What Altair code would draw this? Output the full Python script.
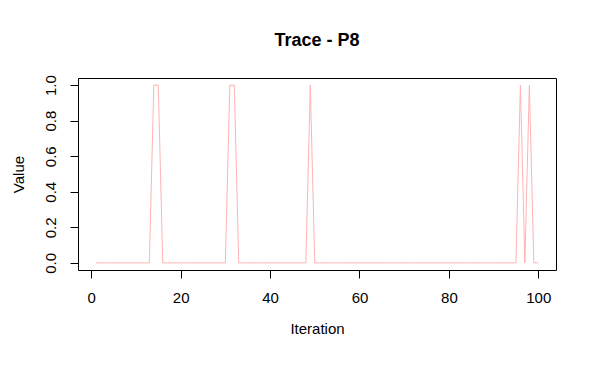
import altair as alt
import pandas as pd

iterations = list(range(1, 101))
ones_at = [14, 15, 31, 32, 49, 96, 98]
values = [1 if i in ones_at else 0 for i in iterations]

df = pd.DataFrame({"Iteration": iterations, "Value": values})

FONT = "Liberation Sans"

line = alt.Chart(df).mark_line(color="#FFB3B3", strokeWidth=1, interpolate="linear").encode(
    x=alt.X("Iteration:Q",
            scale=alt.Scale(domain=[-2.96, 103.96], nice=False, zero=False),
            axis=alt.Axis(values=[0, 20, 40, 60, 80, 100], title="Iteration",
                          grid=False, domain=False, tickColor="black", tickSize=8,
                          labelFontSize=15, labelColor="black", labelFont=FONT,
                          labelPadding=12, titleFont=FONT, titleFontSize=15,
                          titleFontWeight="normal", titleColor="black", titlePadding=16,
                          labelFlush=False)),
    y=alt.Y("Value:Q",
            scale=alt.Scale(domain=[-0.04, 1.04], nice=False, zero=False),
            axis=alt.Axis(values=[0, 0.2, 0.4, 0.6, 0.8, 1.0], format=".1f", title="Value",
                          grid=False, domain=False, tickColor="black", tickSize=8,
                          labelFontSize=15, labelColor="black", labelFont=FONT,
                          labelAngle=-90, labelAlign="center", labelBaseline="bottom",
                          labelPadding=12, titleFont=FONT, titleFontSize=15,
                          titleFontWeight="normal", titleColor="black", titlePadding=17,
                          labelFlush=False)),
)

chart = line.properties(
    width=478, height=192,
    background="white",
    title=alt.TitleParams("Trace - P8", font=FONT, fontSize=18, fontWeight="bold",
                          color="black", anchor="middle", offset=25),
    autosize=alt.AutoSizeParams(type="none"),
    padding={"left": 70, "top": 70, "right": 30, "bottom": 80},
).configure_view(stroke="black", strokeWidth=1)

chart.save("out.html", embed_options={"renderer": "svg", "actions": False})
